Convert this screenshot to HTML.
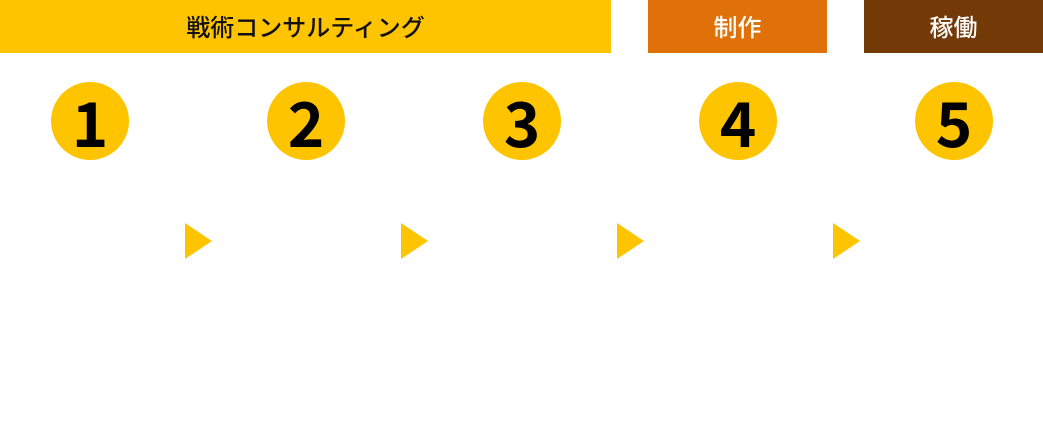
<!DOCTYPE html>
<html><head><meta charset="utf-8"><style>
body{margin:0;width:1043px;height:431px;background:#fff;position:relative;overflow:hidden;font-family:"Noto Sans CJK JP",sans-serif}
.h{position:absolute;top:0;height:53px;line-height:52px;text-align:center;font-size:24px;font-weight:500}
.c{position:absolute;top:82px;width:78px;height:78px;border-radius:50%;background:#FFC400;text-align:center;line-height:77px;font-size:62px;font-weight:bold;color:#000}
.t{position:absolute;top:223px;width:0;height:0;border-top:18px solid transparent;border-bottom:18px solid transparent;border-left:27px solid #FFC400}
</style></head><body>
<div class="h" style="left:0;width:611px;background:#FFC400;color:#111">戦術コンサルティング</div>
<div class="h" style="left:648px;width:179px;background:#E07008;color:#fff">制作</div>
<div class="h" style="left:864px;width:179px;background:#733A08;color:#fff">稼働</div>
<div class="c" style="left:51px">1</div>
<div class="c" style="left:267px">2</div>
<div class="c" style="left:483px">3</div>
<div class="c" style="left:699px">4</div>
<div class="c" style="left:915px">5</div>
<div class="t" style="left:185px"></div>
<div class="t" style="left:401px"></div>
<div class="t" style="left:617px"></div>
<div class="t" style="left:833px"></div>
</body></html>
